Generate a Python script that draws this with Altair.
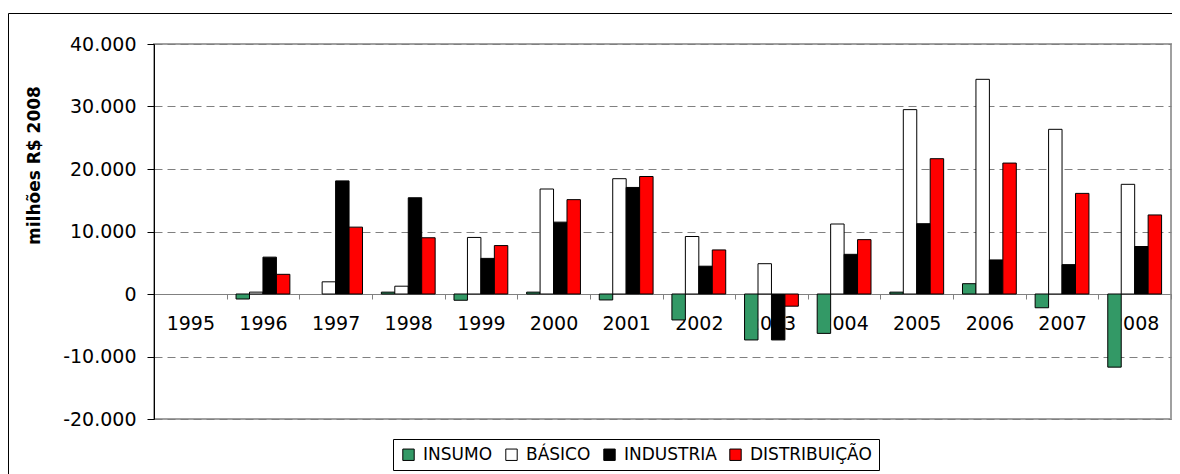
import altair as alt
import pandas as pd

anos = [1995, 1996, 1997, 1998, 1999, 2000, 2001, 2002, 2003, 2004, 2005, 2006, 2007, 2008]
series = ["INSUMO", "BÁSICO", "INDUSTRIA", "DISTRIBUIÇÃO"]
cores = ["#339966", "#FFFFFF", "#000000", "#FF0000"]

insumo = [0, -800, 0, 300, -1000, 300, -950, -4150, -7350, -6300, 300, 1650, -2200, -11700]
basico = [0, 300, 1950, 1250, 9050, 16800, 18450, 9200, 4850, 11200, 29500, 34350, 26350, 17550]
industria = [0, 5900, 18100, 15400, 5700, 11500, 17050, 4450, -7350, 6350, 11250, 5450, 4700, 7600]
distribuicao = [0, 3150, 10700, 9000, 7750, 15100, 18800, 7050, -1950, 8700, 21650, 20950, 16100, 12650]

y_ticks = [-20000, -10000, 0, 10000, 20000, 30000, 40000]

rows = []
for i, a in enumerate(anos):
    for s, vals in zip(series, [insumo, basico, industria, distribuicao]):
        rows.append({"ano": str(a), "serie": s, "valor": vals[i]})
df = pd.DataFrame(rows)

W, H = 1017, 375
FONT = "DejaVu Sans"
anos_str = [str(a) for a in anos]

bars = alt.Chart(df).transform_filter("datum.valor != 0").mark_bar(
    stroke="black", strokeWidth=1
).encode(
    x=alt.X(
        "ano:N",
        sort=anos_str,
        scale=alt.Scale(domain=anos_str, paddingInner=0, paddingOuter=0),
        axis=alt.Axis(
            title=None, orient="bottom", offset=-H / 3, tickBand="extent",
            domainColor="#808080", tickColor="#808080", tickSize=5,
            labelFont=FONT, labelFontSize=19, labelColor="black",
            labelPadding=15, labelAngle=0, grid=False, labelOverlap=False,
        ),
    ),
    xOffset=alt.XOffset(
        "serie:N", sort=series,
        scale=alt.Scale(domain=series, paddingInner=0, paddingOuter=0.7),
    ),
    y=alt.Y(
        "valor:Q",
        scale=alt.Scale(domain=[-20000, 40000], nice=False),
        axis=alt.Axis(
            values=y_ticks,
            labelExpr="replace(replace(format(datum.value, ','), ',', '.'), '\u2212', '-')",
            title="milhões R$ 2008",
            titleFont=FONT, titleFontWeight="bold", titleFontSize=17, titleColor="black",
            titleAngle=270, titleX=-120, titleY=121, titleAlign="center", titleBaseline="middle",
            domainColor="black", tickColor="black", tickSize=7,
            labelFont=FONT, labelFontSize=19, labelColor="black", labelPadding=11,
            grid=True, gridDash=[8, 5], gridColor="#808080", gridWidth=1,
        ),
    ),
    color=alt.Color(
        "serie:N",
        scale=alt.Scale(domain=series, range=cores),
        legend=alt.Legend(
            title=None, orient="none", legendX=239, legendY=395,
            direction="horizontal", strokeColor="black", fillColor="white",
            padding=7, symbolType="square", symbolSize=130,
            symbolStrokeColor="black", symbolStrokeWidth=1, symbolOpacity=1,
            labelFont=FONT, labelFontSize=17, labelColor="black",
            columnPadding=10, labelOffset=6,
        ),
    ),
)

border = alt.Chart(pd.DataFrame({"k": [0]})).mark_rect(
    filled=False, stroke="black", strokeWidth=1
).encode(
    x=alt.value(-145.5), x2=alt.value(W + 100),
    y=alt.value(-30.5), y2=alt.value(H + 200),
)

chart = alt.layer(bars, border).properties(
    width=W, height=H,
    autosize=alt.AutoSizeParams(type="none"),
    padding={"left": 146, "top": 36, "right": 1, "bottom": 55},
    background="white",
).configure_view(stroke="#a0a0a0", strokeWidth=2)

chart.save("out.html", embed_options={"renderer": "svg", "actions": False})
